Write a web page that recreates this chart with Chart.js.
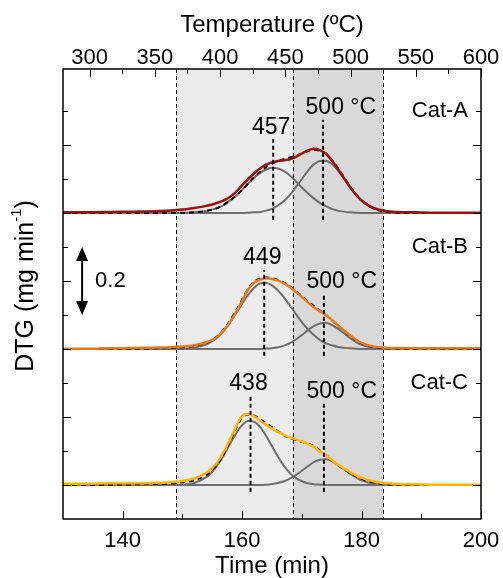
<!DOCTYPE html>
<html lang="en">
<head>
<meta charset="UTF-8">
<title>DTG profiles</title>
<script src="https://cdn.jsdelivr.net/npm/chart.js@4"></script>
<style>
  html, body { margin: 0; padding: 0; background: #fff; }
  #wrap { width: 503px; height: 578px; }
</style>
</head>
<body>
<div id="wrap"><canvas id="dtgChart" width="503" height="578"></canvas></div>
<script>
// time grid (min), shared by every curve
const times = [130, 134, 138, 142, 145, 148, 150, 152, 154, 155, 156, 157, 158, 159, 160,
  161, 162, 163, 164, 165, 166, 167, 168, 169, 170, 171, 172, 173, 174, 175, 176, 177,
  178, 179, 180, 182, 184, 186, 189, 193, 200];

// measured DTG (mg/min above each baseline)
const catA = [0.002, 0.002, 0.003, 0.004, 0.005, 0.007, 0.010, 0.015, 0.021, 0.025, 0.031, 0.038, 0.048, 0.062, 0.082,
  0.100, 0.117, 0.131, 0.142, 0.149, 0.153, 0.155, 0.158, 0.165, 0.175, 0.184, 0.189, 0.185, 0.175, 0.155, 0.130, 0.104,
  0.078, 0.055, 0.037, 0.015, 0.006, 0.003, 0.002, 0.001, 0.001];
const catB = [0.001, 0.001, 0.002, 0.003, 0.004, 0.005, 0.007, 0.011, 0.020, 0.027, 0.038, 0.057, 0.080, 0.109, 0.141,
  0.175, 0.195, 0.204, 0.208, 0.206, 0.201, 0.193, 0.182, 0.168, 0.153, 0.137, 0.123, 0.112, 0.100, 0.086, 0.070, 0.055,
  0.041, 0.028, 0.018, 0.007, 0.004, 0.003, 0.002, 0.002, 0.002];
const catC = [0.004, 0.004, 0.005, 0.005, 0.006, 0.008, 0.012, 0.019, 0.036, 0.050, 0.071, 0.100, 0.135, 0.172, 0.203,
  0.209, 0.202, 0.189, 0.177, 0.166, 0.156, 0.147, 0.140, 0.134, 0.128, 0.121, 0.112, 0.099, 0.088, 0.074, 0.060, 0.049,
  0.039, 0.029, 0.021, 0.011, 0.005, 0.003, 0.002, 0.001, 0.001];

// overall fit (dashed)
const fitA = [0, 0, 0, 0, 0, 0.001, 0.001, 0.002, 0.006, 0.010, 0.016, 0.025, 0.037, 0.051, 0.068,
  0.087, 0.105, 0.121, 0.135, 0.145, 0.153, 0.158, 0.163, 0.169, 0.175, 0.182, 0.186, 0.183, 0.174, 0.156, 0.133, 0.107,
  0.080, 0.056, 0.037, 0.013, 0.004, 0.001, 0, 0, 0];
const fitB = [0, 0, 0.001, 0.001, 0.002, 0.003, 0.005, 0.009, 0.018, 0.027, 0.040, 0.059, 0.084, 0.113, 0.145,
  0.177, 0.198, 0.207, 0.210, 0.208, 0.203, 0.195, 0.184, 0.170, 0.155, 0.140, 0.126, 0.113, 0.100, 0.085, 0.069, 0.054,
  0.039, 0.027, 0.017, 0.006, 0.002, 0.001, 0, 0, 0];
const fitC = [0, 0, 0.001, 0.002, 0.003, 0.005, 0.008, 0.014, 0.029, 0.043, 0.064, 0.094, 0.130, 0.168, 0.198,
  0.207, 0.204, 0.194, 0.182, 0.170, 0.158, 0.147, 0.138, 0.132, 0.127, 0.122, 0.114, 0.101, 0.088, 0.073, 0.059, 0.047,
  0.036, 0.026, 0.018, 0.008, 0.003, 0.001, 0, 0, 0];

// deconvoluted components (grey)
const peak1A = [0, 0, 0, 0, 0, 0, 0, 0.002, 0.006, 0.010, 0.016, 0.025, 0.037, 0.051, 0.068,
  0.086, 0.103, 0.118, 0.128, 0.133, 0.131, 0.123, 0.110, 0.093, 0.075, 0.058, 0.043, 0.030, 0.020, 0.012, 0.007, 0.004,
  0.002, 0.001, 0, 0, 0, 0, 0, 0, 0];
const peak2A = [0, 0, 0, 0, 0, 0, 0, 0, 0, 0, 0, 0, 0, 0, 0,
  0.001, 0.002, 0.003, 0.007, 0.012, 0.022, 0.035, 0.053, 0.076, 0.100, 0.124, 0.143, 0.153, 0.154, 0.144, 0.126, 0.103,
  0.078, 0.055, 0.037, 0.013, 0.004, 0.001, 0, 0, 0];
const peak1B = [0, 0, 0, 0, 0, 0, 0.001, 0.004, 0.014, 0.023, 0.037, 0.055, 0.079, 0.105, 0.133,
  0.159, 0.180, 0.193, 0.195, 0.187, 0.172, 0.152, 0.128, 0.103, 0.079, 0.058, 0.041, 0.027, 0.017, 0.011, 0.006, 0.004,
  0.002, 0.001, 0, 0, 0, 0, 0, 0, 0];
const peak2B = [0, 0, 0, 0, 0, 0, 0, 0, 0, 0, 0, 0, 0, 0, 0,
  0, 0, 0, 0.001, 0.002, 0.005, 0.010, 0.017, 0.028, 0.041, 0.055, 0.067, 0.075, 0.077, 0.071, 0.060, 0.047,
  0.033, 0.021, 0.012, 0.003, 0.001, 0, 0, 0, 0];
const peak1C = [0, 0, 0, 0, 0, 0, 0.001, 0.006, 0.023, 0.039, 0.062, 0.090, 0.122, 0.152, 0.176,
  0.188, 0.186, 0.171, 0.145, 0.114, 0.083, 0.056, 0.035, 0.020, 0.011, 0.005, 0.002, 0.001, 0, 0, 0, 0,
  0, 0, 0, 0, 0, 0, 0, 0, 0];
const peak2C = [0, 0, 0, 0, 0, 0, 0, 0, 0, 0, 0, 0, 0, 0, 0,
  0, 0, 0, 0.001, 0.003, 0.006, 0.011, 0.019, 0.029, 0.042, 0.055, 0.067, 0.074, 0.076, 0.071, 0.060, 0.047,
  0.034, 0.023, 0.014, 0.004, 0.001, 0, 0, 0, 0];

const catNames = ['Cat-A', 'Cat-B', 'Cat-C'];
const offsets = [0.8, 0.4, 0];
const lineColors = ['#9b1010', '#e8791a', '#ffb400'];

// axes
const timeTicks = [140, 160, 180, 200];
const timeMinor = [150, 170, 190];
const tempTicks = [300, 350, 400, 450, 500, 550, 600];
const tempMinor = [325, 375, 425, 475, 525, 575];
const dtgMajor = [0, 0.2, 0.4, 0.6, 0.8, 1.0];
const dtgMinor = [0.1, 0.3, 0.5, 0.7, 0.9, 1.1];

// shaded temperature zones (time, min)
const zoneEdges = [148.9, 168.6, 183.6];
const zoneColors = ['#ececec', '#d9d9d9'];

// peak markers
const peakTimes = [[165.2, 173.55], [163.7, 173.7], [161.4, 173.7]];
const peakTops = [[0.217, 0.274], [0.232, 0.164], [0.262, 0.240]];
const peakTexts = [['457', '500 °C'], ['449', '500 °C'], ['438', '500 °C']];
const catLabelLevel = [1.1, 0.7, 0.3];

// 0.2 scale bar
const scaleBarTime = 133.2;
const scaleBarRange = [0.5, 0.7];

const FONT = "'Liberation Sans', Arial, sans-serif";

function points(vals, off) {
  return times.map((t, i) => ({ x: t, y: vals[i] + off }));
}

const measured = [catA, catB, catC];
const fitted = [fitA, fitB, fitC];
const comp1 = [peak1A, peak1B, peak1C];
const comp2 = [peak2A, peak2B, peak2C];

const datasets = [];
catNames.forEach((name, k) => {
  const base = { pointRadius: 0, fill: false, cubicInterpolationMode: 'monotone' };
  datasets.push(Object.assign({}, base, { label: name, data: points(measured[k], offsets[k]),
    borderColor: lineColors[k], borderWidth: 2.5, order: 1 }));
  datasets.push(Object.assign({}, base, { label: name + ' fit', data: points(fitted[k], offsets[k]),
    borderColor: '#000', borderWidth: 2, borderDash: [5, 4], order: 2 }));
  datasets.push(Object.assign({}, base, { label: name + ' peak 1', data: points(comp1[k], offsets[k]),
    borderColor: '#6e6e6e', borderWidth: 2, order: 3 }));
  datasets.push(Object.assign({}, base, { label: name + ' peak 2', data: points(comp2[k], offsets[k]),
    borderColor: '#6e6e6e', borderWidth: 2, order: 3 }));
});

// x axes: fixed band height and no extra side padding for edge labels
function fixXAxis(height) {
  return s => { s.height = height; s.paddingLeft = 0; s.paddingRight = 0; };
}

const decor = {
  id: 'decor',
  beforeDatasetsDraw(chart) {
    const { ctx, chartArea: a, scales: { x } } = chart;
    const px = zoneEdges.map(v => x.getPixelForValue(v));
    ctx.save();
    ctx.fillStyle = zoneColors[0];
    ctx.fillRect(px[0], a.top, px[1] - px[0], a.bottom - a.top);
    ctx.fillStyle = zoneColors[1];
    ctx.fillRect(px[1], a.top, px[2] - px[1], a.bottom - a.top);
    ctx.strokeStyle = '#000';
    ctx.lineWidth = 1;
    ctx.setLineDash([4, 3]);
    px.forEach(p => {
      ctx.beginPath();
      ctx.moveTo(Math.round(p) + 0.5, a.top);
      ctx.lineTo(Math.round(p) + 0.5, a.bottom);
      ctx.stroke();
    });
    ctx.restore();
  },
  afterDatasetsDraw(chart) {
    const { ctx, chartArea: a, scales: { x, xTop, y } } = chart;
    ctx.save();

    // peak markers and their labels
    ctx.strokeStyle = '#000';
    ctx.fillStyle = '#000';
    ctx.lineWidth = 2;
    ctx.font = '23px ' + FONT;
    ctx.textBaseline = 'middle';
    peakTimes.forEach((pair, k) => {
      pair.forEach((t, j) => {
        const px = x.getPixelForValue(t);
        const top = y.getPixelForValue(offsets[k] + peakTops[k][j]);
        const bot = y.getPixelForValue(offsets[k] - 0.02);
        ctx.setLineDash([4, 3]);
        ctx.beginPath();
        ctx.moveTo(px, bot);
        ctx.lineTo(px, top);
        ctx.stroke();
        ctx.setLineDash([]);
        if (j === 0) {
          ctx.textAlign = 'center';
          ctx.fillText(peakTexts[k][j], px - 2, top - 12);
        } else {
          ctx.textAlign = 'left';
          ctx.fillText(peakTexts[k][j], px - 17.5, top - 12);
        }
      });
    });

    // sample names
    ctx.font = '22px ' + FONT;
    ctx.textAlign = 'right';
    catNames.forEach((name, k) => {
      ctx.fillText(name, a.right - 13, y.getPixelForValue(catLabelLevel[k]));
    });

    // scale bar
    const bx = x.getPixelForValue(scaleBarTime);
    const by0 = y.getPixelForValue(scaleBarRange[1]);
    const by1 = y.getPixelForValue(scaleBarRange[0]);
    ctx.lineWidth = 2;
    ctx.beginPath();
    ctx.moveTo(bx, by0 + 10);
    ctx.lineTo(bx, by1 - 10);
    ctx.stroke();
    ctx.beginPath();
    ctx.moveTo(bx, by0); ctx.lineTo(bx - 6, by0 + 14); ctx.lineTo(bx + 6, by0 + 14); ctx.closePath();
    ctx.fill();
    ctx.beginPath();
    ctx.moveTo(bx, by1); ctx.lineTo(bx - 6, by1 - 14); ctx.lineTo(bx + 6, by1 - 14); ctx.closePath();
    ctx.fill();
    ctx.textAlign = 'left';
    ctx.fillText('0.2', bx + 13, (by0 + by1) / 2);

    // inward tick marks
    ctx.lineWidth = 1;
    const tick = (x0, y0, x1, y1) => { ctx.beginPath(); ctx.moveTo(x0, y0); ctx.lineTo(x1, y1); ctx.stroke(); };
    timeTicks.forEach(v => { const p = Math.round(x.getPixelForValue(v)) + 0.5; tick(p, a.bottom, p, a.bottom - 8); });
    timeMinor.forEach(v => { const p = Math.round(x.getPixelForValue(v)) + 0.5; tick(p, a.bottom, p, a.bottom - 5); });
    tempTicks.forEach(v => { const p = Math.round(xTop.getPixelForValue(v)) + 0.5; tick(p, a.top, p, a.top + 8); });
    tempMinor.forEach(v => { const p = Math.round(xTop.getPixelForValue(v)) + 0.5; tick(p, a.top, p, a.top + 5); });
    dtgMajor.forEach(v => {
      const p = Math.round(y.getPixelForValue(v)) + 0.5;
      tick(a.left, p, a.left + 8, p); tick(a.right, p, a.right - 8, p);
    });
    dtgMinor.forEach(v => {
      const p = Math.round(y.getPixelForValue(v)) + 0.5;
      tick(a.left, p, a.left + 5, p); tick(a.right, p, a.right - 5, p);
    });

    // frame
    ctx.lineWidth = 1.5;
    ctx.strokeRect(a.left, a.top, a.right - a.left, a.bottom - a.top);
    ctx.restore();
  },
  afterDraw(chart) {
    const { ctx, chartArea: a } = chart;
    const cx = (a.left + a.right) / 2;
    ctx.save();
    ctx.fillStyle = '#000';
    ctx.textAlign = 'center';
    ctx.textBaseline = 'middle';
    ctx.font = '24px ' + FONT;
    ctx.fillText('Temperature (ºC)', cx, 25);
    ctx.fillText('Time (min)', cx, 566);

    // rotated y title with superscript
    ctx.translate(26, 286);
    ctx.rotate(-Math.PI / 2);
    const main = 'DTG (mg min';
    ctx.font = '25px ' + FONT;
    const w1 = ctx.measureText(main).width;
    const w3 = ctx.measureText(')').width;
    ctx.font = '15px ' + FONT;
    const w2 = ctx.measureText('-1').width;
    let sx = -(w1 + w2 + w3) / 2;
    ctx.textAlign = 'left';
    ctx.font = '25px ' + FONT;
    ctx.fillText(main, sx, 0);
    ctx.font = '15px ' + FONT;
    ctx.fillText('-1', sx + w1, -9);
    ctx.font = '25px ' + FONT;
    ctx.fillText(')', sx + w1 + w2, 0);
    ctx.restore();
  }
};

const ctx = document.getElementById('dtgChart').getContext('2d');
new Chart(ctx, {
  type: 'line',
  data: { datasets },
  options: {
    responsive: false,
    animation: false,
    devicePixelRatio: 1,
    layout: { padding: 0 },
    plugins: { legend: { display: false }, tooltip: { enabled: false } },
    font: { family: FONT },
    scales: {
      x: {
        type: 'linear', position: 'bottom', min: 130, max: 200,
        grid: { display: false, drawTicks: false }, border: { display: false },
        afterBuildTicks: s => { s.ticks = timeTicks.map(v => ({ value: v })); },
        afterFit: fixXAxis(59),
        ticks: { color: '#000', padding: 11, maxRotation: 0, font: { family: FONT, size: 22, lineHeight: 1 } }
      },
      xTop: {
        type: 'linear', axis: 'x', position: 'top', min: 279.67, max: 600,
        grid: { display: false, drawTicks: false }, border: { display: false },
        afterBuildTicks: s => { s.ticks = tempTicks.map(v => ({ value: v })); },
        afterFit: fixXAxis(69),
        ticks: { color: '#000', padding: 0, maxRotation: 0, font: { family: FONT, size: 22, lineHeight: 1 } }
      },
      y: {
        type: 'linear', position: 'left', min: -0.1, max: 1.2235,
        grid: { display: false, drawTicks: false }, border: { display: false },
        ticks: { display: false },
        afterFit: s => { s.width = 63; }
      },
      yRight: {
        type: 'linear', position: 'right', min: -0.1, max: 1.2235,
        grid: { display: false, drawTicks: false }, border: { display: false },
        ticks: { display: false },
        afterFit: s => { s.width = 22; }
      }
    }
  },
  plugins: [decor]
});
</script>
</body>
</html>
